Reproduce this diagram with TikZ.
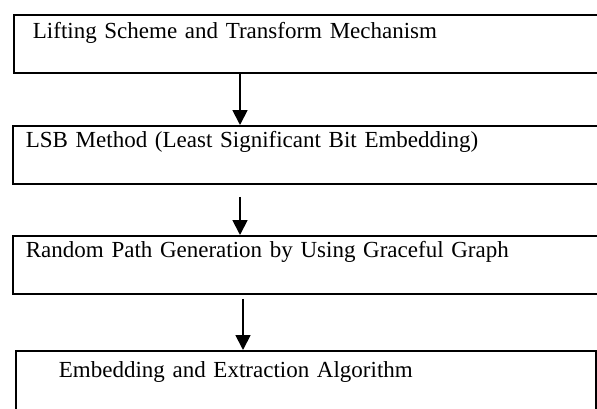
\documentclass[tikz,border=0pt]{standalone}
\usepackage{fontspec}
\setmainfont{Liberation Serif}
\usepackage{tikz}
\usetikzlibrary{arrows.meta}
\tikzset{
    stage/.style={draw, line width=1.8pt, rectangle, anchor=north west, align=left,
        inner ysep=0pt, font=\fontsize{23}{27}\selectfont}, % boxes of the flow
    flow/.style={line width=1.8pt, -{Triangle[width=15pt,length=15pt]}} % arrows between boxes
}
\begin{document}
\begin{tikzpicture}[x=1pt, y=-1pt]

    \useasboundingbox (0,0) rectangle (597,408);
    \clip (0,0) rectangle (597,408);

    \node[stage, inner xsep=19pt, text width=569pt, text height=24pt, text depth=34pt]
        (lift) at (13,14) {Lifting Scheme and Transform Mechanism};

    \node[stage, inner xsep=13pt, text width=582pt, text height=22pt, text depth=36pt]
        (lsb) at (12,125) {LSB Method (Least Significant Bit Embedding)};

    \node[stage, inner xsep=13pt, text width=582pt, text height=22pt, text depth=36pt]
        (path) at (12,235) {Random Path Generation by Using Graceful Graph};

    \node[stage, inner xsep=43pt, text width=494pt, text height=27pt, text depth=32pt]
        (embed) at (15,350) {Embedding and Extraction Algorithm};

    \draw[flow] ([xshift=227pt]lift.south west) -- ([xshift=228pt]lsb.north west);
    \draw[flow, shorten <=12pt] ([xshift=228pt]lsb.south west) -- ([xshift=228pt]path.north west);
    \draw[flow, shorten <=4pt] ([xshift=231pt]path.south west) -- ([xshift=228pt]embed.north west);

\end{tikzpicture}
\end{document}
